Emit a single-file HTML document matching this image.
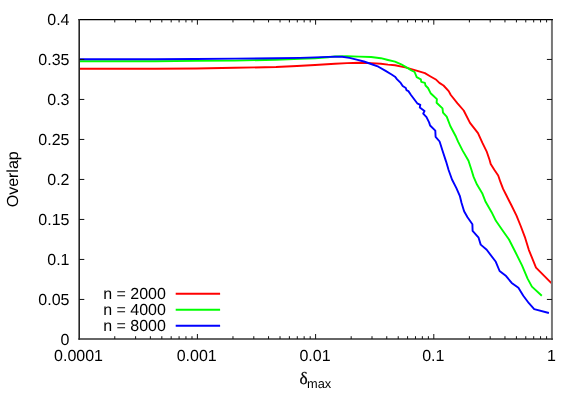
<!DOCTYPE html>
<html><head><meta charset="utf-8"><style>
html,body{margin:0;padding:0;background:#fff;}
svg{display:block;will-change:transform;}
text{font-family:"Liberation Sans",sans-serif;font-size:16px;fill:#000;text-rendering:geometricPrecision;}
</style></head><body>
<svg width="581" height="407" viewBox="0 0 581 407">
<rect width="581" height="407" fill="#fff"/>
<g fill="none" stroke-width="1.9" stroke-linejoin="round" stroke-linecap="butt">
<path d="M79.0,68.8 L155.0,68.8 L196.0,68.5 L235.0,67.8 L276.0,67.0 L297.0,66.0 L315.0,65.0 L335.0,63.7 L347.0,63.1 L359.1,62.8 L371.1,63.1 L380.8,63.7 L388.0,64.6 L395.0,65.3 L405.3,67.4 L415.7,70.3 L424.9,73.1 L430.1,76.2 L436.3,79.8 L439.4,82.9 L443.5,85.5 L448.7,91.1 L450.8,95.0 L457.5,103.3 L463.7,110.5 L470.0,122.9 L478.0,133.2 L482.3,142.7 L486.6,151.3 L489.6,160.0 L490.7,164.1 L494.3,169.8 L498.2,175.5 L500.5,182.2 L503.1,188.9 L506.2,195.0 L511.4,205.3 L516.5,215.7 L520.7,226.0 L524.8,236.8 L528.8,249.8 L536.0,267.6 L551.4,283.2" stroke="#ff0000"/>
<path d="M79.0,61.3 L155.0,61.3 L196.0,60.9 L235.0,60.6 L276.0,59.7 L300.0,58.9 L315.0,58.3 L328.0,57.3 L335.0,56.4 L347.0,56.2 L359.1,56.6 L371.1,57.0 L380.8,58.2 L388.0,60.0 L395.0,61.7 L401.2,64.3 L407.4,67.9 L411.5,70.5 L414.6,72.0 L416.7,77.2 L420.8,79.3 L421.3,81.9 L424.9,82.9 L425.5,85.5 L428.0,88.0 L430.6,93.2 L432.5,95.0 L436.9,99.1 L436.6,102.7 L442.5,108.4 L443.0,112.6 L446.7,116.7 L450.3,126.0 L456.0,136.8 L458.2,141.8 L462.5,150.4 L468.5,160.8 L471.5,170.0 L473.6,176.9 L477.0,184.6 L482.2,193.2 L485.6,201.8 L491.6,212.2 L495.9,220.8 L502.1,229.7 L509.0,239.5 L515.1,251.5 L522.0,265.3 L527.6,278.6 L531.9,286.6 L541.8,295.8" stroke="#00ff00"/>
<path d="M79.0,59.2 L104.0,59.2 L155.0,59.2 L196.0,59.0 L235.0,58.6 L276.0,58.3 L300.0,57.9 L315.0,57.4 L328.0,56.9 L335.0,56.7 L342.2,56.7 L349.5,57.9 L356.7,59.7 L363.9,61.5 L371.1,64.0 L378.4,66.7 L385.6,70.9 L391.6,74.5 L395.0,76.7 L397.1,79.3 L400.7,82.9 L402.7,86.0 L405.8,88.0 L406.4,90.1 L408.4,91.1 L411.0,95.0 L417.2,103.3 L420.3,104.8 L419.8,107.4 L424.5,111.0 L423.2,113.6 L426.5,117.2 L429.1,122.4 L430.1,125.5 L435.3,130.6 L435.6,136.8 L439.6,141.5 L442.7,151.3 L446.1,161.6 L448.6,170.0 L452.0,179.5 L456.4,188.1 L459.8,195.8 L461.5,202.7 L464.1,211.3 L467.5,217.3 L472.4,224.2 L472.6,230.9 L478.6,237.7 L480.7,244.6 L486.7,249.8 L495.8,261.8 L499.6,271.0 L506.1,276.1 L511.7,282.9 L518.4,287.8 L523.3,295.8 L528.9,303.2 L534.2,309.1 L548.9,313.0" stroke="#0000ff"/>
</g>
<path d="M551.95,18.9V340" stroke="#777" stroke-width="2" fill="none"/>
<path d="M78.4,338.98H552.95" stroke="#333" stroke-width="1.5" fill="none"/>
<path d="M78.4,19.6H552.9" stroke="#000" stroke-width="1.4" fill="none"/>
<path d="M79.2,18.9V339.73" stroke="#262626" stroke-width="1.6" fill="none"/>
<path d="M79.2,299.45H84.3M552,299.45H546.9 M79.2,259.45H84.3M552,259.45H546.9 M79.2,219.45H84.3M552,219.45H546.9 M79.2,179.45H84.3M552,179.45H546.9 M79.2,139.45H84.3M552,139.45H546.9 M79.2,99.45H84.3M552,99.45H546.9 M79.2,59.45H84.3M552,59.45H546.9 M114.78,339V336.2M114.78,19.6V22.4 M135.60,339V336.2M135.60,19.6V22.4 M150.36,339V336.2M150.36,19.6V22.4 M161.82,339V336.2M161.82,19.6V22.4 M171.18,339V336.2M171.18,19.6V22.4 M179.09,339V336.2M179.09,19.6V22.4 M185.95,339V336.2M185.95,19.6V22.4 M191.99,339V336.2M191.99,19.6V22.4 M197.40,339V334M197.40,19.6V24.7 M232.98,339V336.2M232.98,19.6V22.4 M253.80,339V336.2M253.80,19.6V22.4 M268.56,339V336.2M268.56,19.6V22.4 M280.02,339V336.2M280.02,19.6V22.4 M289.38,339V336.2M289.38,19.6V22.4 M297.29,339V336.2M297.29,19.6V22.4 M304.15,339V336.2M304.15,19.6V22.4 M310.19,339V336.2M310.19,19.6V22.4 M315.60,339V334M315.60,19.6V24.7 M351.18,339V336.2M351.18,19.6V22.4 M372.00,339V336.2M372.00,19.6V22.4 M386.76,339V336.2M386.76,19.6V22.4 M398.22,339V336.2M398.22,19.6V22.4 M407.58,339V336.2M407.58,19.6V22.4 M415.49,339V336.2M415.49,19.6V22.4 M422.35,339V336.2M422.35,19.6V22.4 M428.39,339V336.2M428.39,19.6V22.4 M433.80,339V334M433.80,19.6V24.7 M469.38,339V336.2M469.38,19.6V22.4 M490.20,339V336.2M490.20,19.6V22.4 M504.96,339V336.2M504.96,19.6V22.4 M516.42,339V336.2M516.42,19.6V22.4 M525.78,339V336.2M525.78,19.6V22.4 M533.69,339V336.2M533.69,19.6V22.4 M540.55,339V336.2M540.55,19.6V22.4 M546.59,339V336.2M546.59,19.6V22.4" stroke="#111" stroke-width="1" fill="none"/>
<text x="69.5" y="345.00" text-anchor="end">0</text><text x="69.5" y="305.00" text-anchor="end">0.05</text><text x="69.5" y="265.00" text-anchor="end">0.1</text><text x="69.5" y="225.00" text-anchor="end">0.15</text><text x="69.5" y="185.00" text-anchor="end">0.2</text><text x="69.5" y="145.00" text-anchor="end">0.25</text><text x="69.5" y="105.00" text-anchor="end">0.3</text><text x="69.5" y="65.00" text-anchor="end">0.35</text><text x="69.5" y="25.00" text-anchor="end">0.4</text>
<text x="78.50" y="360.8" text-anchor="middle">0.0001</text><text x="196.75" y="360.8" text-anchor="middle">0.001</text><text x="315.00" y="360.8" text-anchor="middle">0.01</text><text x="433.25" y="360.8" text-anchor="middle">0.1</text><text x="551.50" y="360.8" text-anchor="middle">1</text>
<text x="165.9" y="299.30" text-anchor="end">n = 2000</text><path d="M175.7,293.70H220.1" stroke="#ff0000" stroke-width="1.9" fill="none"/><text x="165.9" y="315.35" text-anchor="end">n = 4000</text><path d="M175.7,309.75H220.1" stroke="#00ff00" stroke-width="1.9" fill="none"/><text x="165.9" y="331.40" text-anchor="end">n = 8000</text><path d="M175.7,325.80H220.1" stroke="#0000ff" stroke-width="1.9" fill="none"/>
<text transform="translate(18.2,179.3) rotate(-90)" text-anchor="middle">Overlap</text>
<text x="299.5" y="383.5" style="font-family:'Liberation Serif',serif;font-size:17.3px;stroke:#000;stroke-width:0.25px">δ</text>
<text x="307" y="388" style="font-size:12.8px">max</text>
</svg>
</body></html>
